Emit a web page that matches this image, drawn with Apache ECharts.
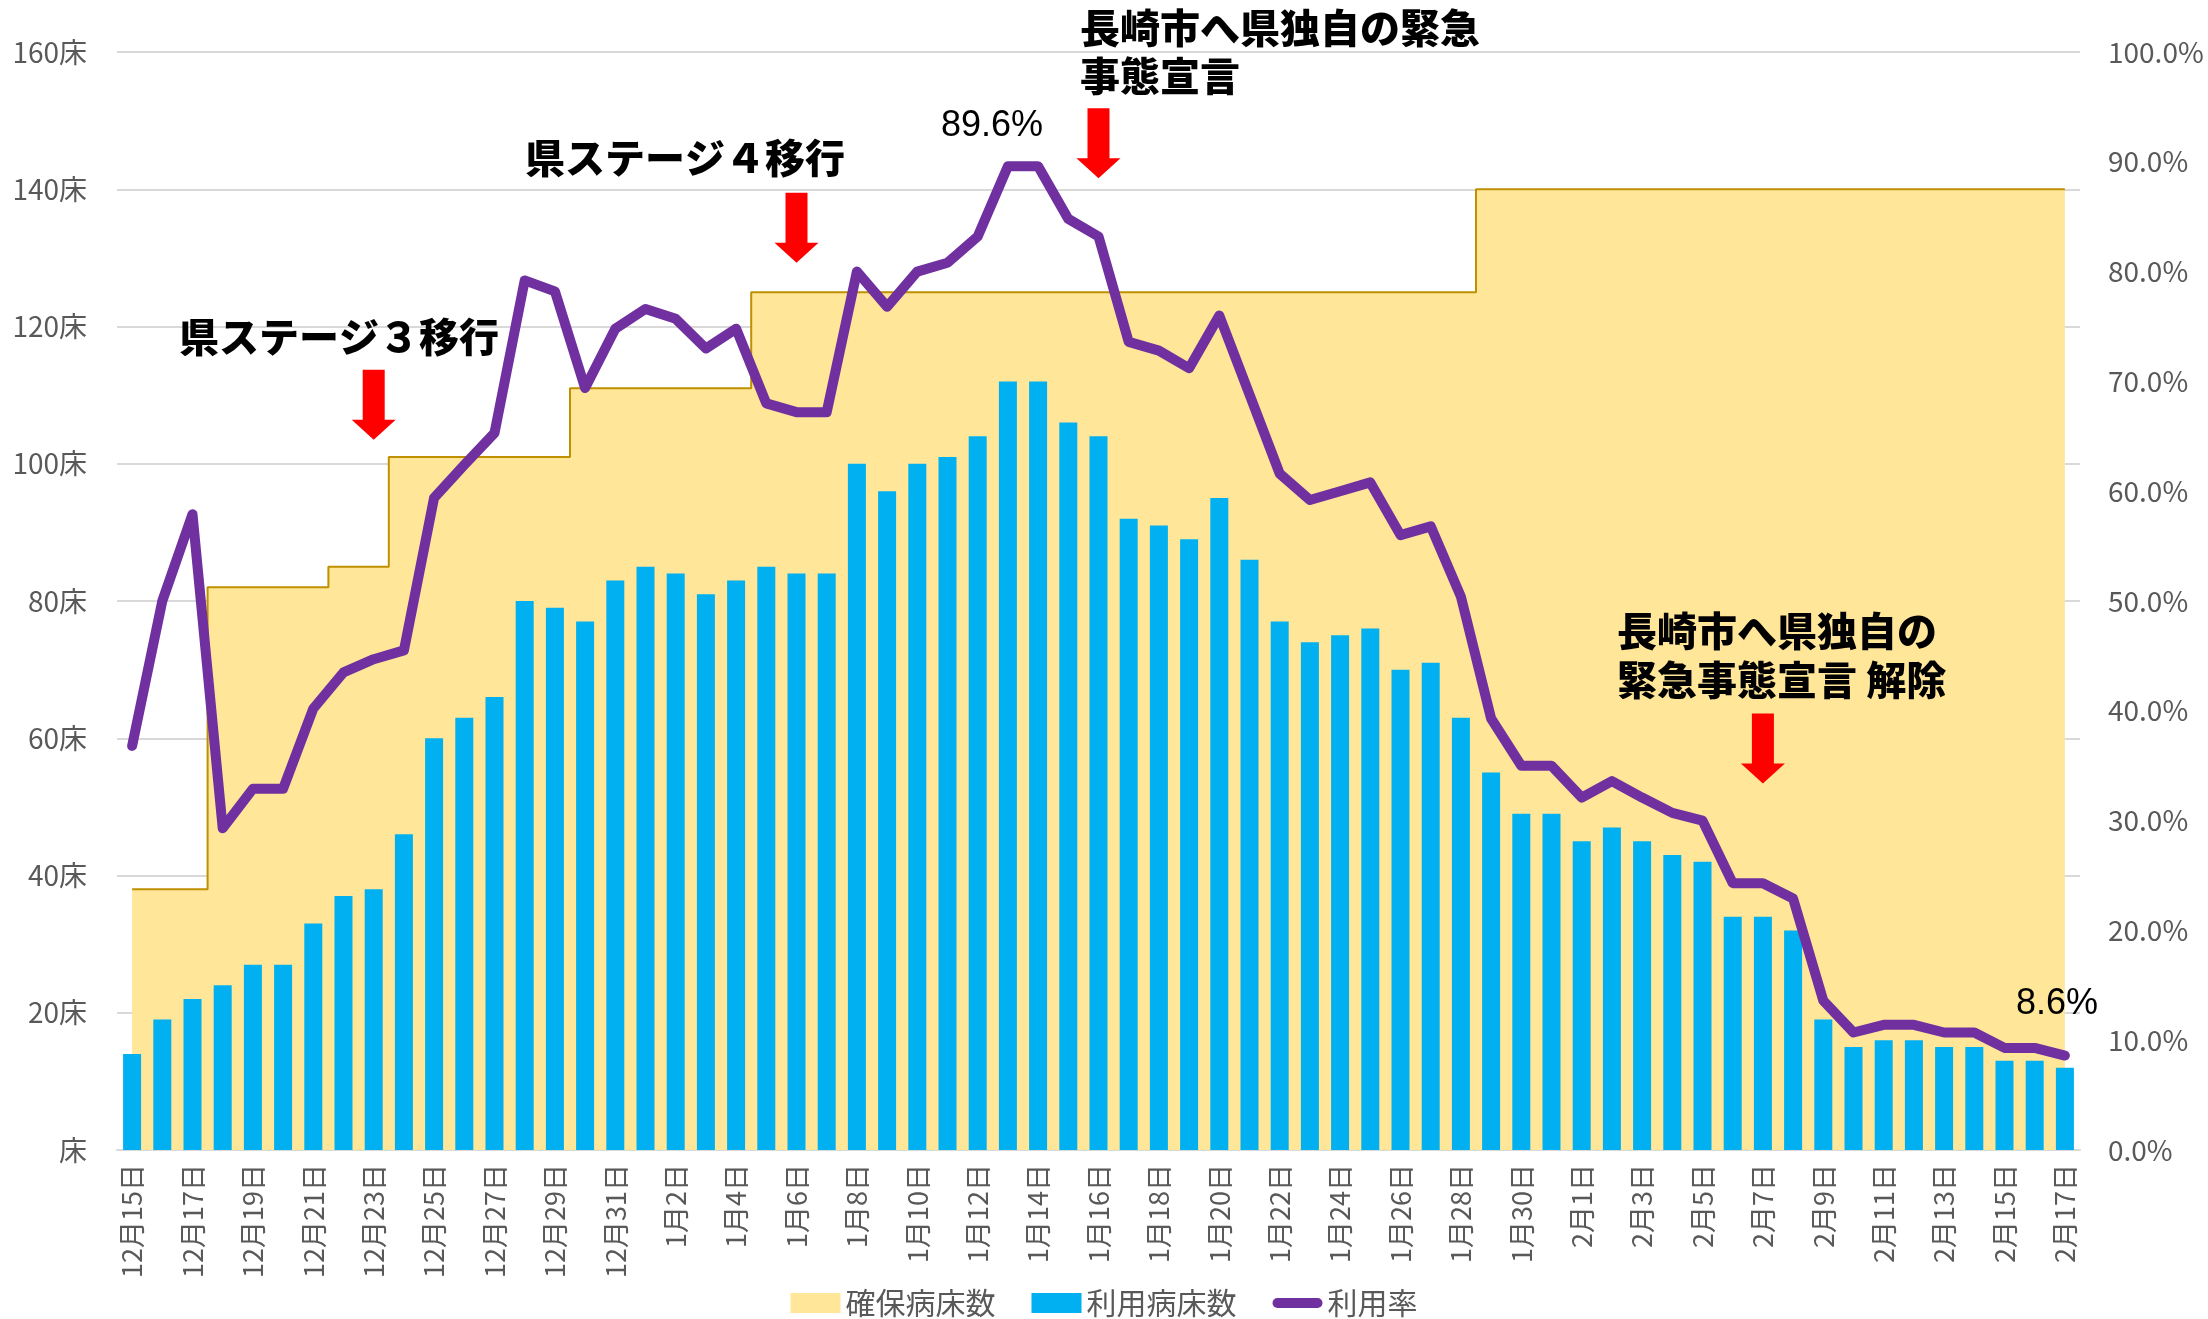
<!DOCTYPE html>
<html><head><meta charset="utf-8">
<script src="https://cdn.jsdelivr.net/npm/echarts@6/dist/echarts.min.js"></script>
<style>html,body{margin:0;padding:0;background:#fff}#main{width:2208px;height:1319px}</style>
</head><body><div id="main"></div>
<script>
const dates = ['12月15日','12月16日','12月17日','12月18日','12月19日','12月20日','12月21日','12月22日','12月23日','12月24日','12月25日','12月26日','12月27日','12月28日','12月29日','12月30日','12月31日',
'1月1日','1月2日','1月3日','1月4日','1月5日','1月6日','1月7日','1月8日','1月9日','1月10日','1月11日','1月12日','1月13日','1月14日','1月15日','1月16日','1月17日','1月18日','1月19日','1月20日','1月21日','1月22日','1月23日','1月24日','1月25日','1月26日','1月27日','1月28日','1月29日','1月30日','1月31日',
'2月1日','2月2日','2月3日','2月4日','2月5日','2月6日','2月7日','2月8日','2月9日','2月10日','2月11日','2月12日','2月13日','2月14日','2月15日','2月16日','2月17日'];
const securedBeds = [38,38,38,82,82,82,82,85,85,101,101,101,101,101,101,111,111,
111,111,111,111,125,125,125,125,125,125,125,125,125,125,125,125,125,125,125,125,125,125,125,125,125,125,125,125,140,140,140,
140,140,140,140,140,140,140,140,140,140,140,140,140,140,140,140,140];
const usedBeds = [14,19,22,24,27,27,33,37,38,46,60,63,66,80,79,77,83,
85,84,81,83,85,84,84,100,96,100,101,104,112,112,106,104,92,91,89,95,86,77,74,75,76,70,71,63,55,49,49,
45,47,45,43,42,34,34,32,19,15,16,16,15,15,13,13,12];
const usageRate = [36.8,50.0,57.9,29.3,32.9,32.9,40.2,43.5,44.7,45.5,59.4,62.4,65.3,79.2,78.2,69.4,74.8,
76.6,75.7,73.0,74.8,68.0,67.2,67.2,80.0,76.8,80.0,80.8,83.2,89.6,89.6,84.8,83.2,73.6,72.8,71.2,76.0,68.8,61.6,59.2,60.0,60.8,56.0,56.8,50.4,39.3,35.0,35.0,
32.1,33.6,32.1,30.7,30.0,24.3,24.3,22.9,13.6,10.7,11.4,11.4,10.7,10.7,9.3,9.3,8.6];
const leftTicks = [0,20,40,60,80,100,120,140,160];
const arrowPoints = [['12月23日',108.6],['1月6日',134.4],['1月16日',146.7],['2月7日',58.5]];

const CJK = "'Noto Sans CJK JP', 'Noto Sans', sans-serif";
const chart = echarts.init(document.getElementById('main'));
const arrowPath = 'path://M11,0 H33 V50 H44 L22,70 L0,50 H11 Z';
const boldFont = "900 40px " + CJK;
const numFont = "36px 'Liberation Sans Narrow', 'Liberation Sans', sans-serif";
function txt(x, y, text, font, align) {
  return {type: 'text', x: x, y: y, z: 100, zlevel: 1,
    style: {text: text, font: font, fill: '#000', align: align || 'left', verticalAlign: 'middle'}};
}
chart.setOption({
  animation: false,
  textStyle: {fontFamily: CJK},
  grid: {left: 117, right: 128, top: 52, bottom: 169},
  xAxis: {
    type: 'category', data: dates, boundaryGap: true,
    axisLine: {lineStyle: {color: '#D9D9D9', width: 2}},
    axisTick: {interval: 1, length: 8, lineStyle: {color: '#D9D9D9', width: 2}},
    axisLabel: {interval: 1, rotate: 90, fontSize: 27, color: '#595959', margin: 14}
  },
  yAxis: [{
    type: 'value', min: leftTicks[0], max: leftTicks[leftTicks.length-1], interval: 20,
    axisLabel: {formatter: v => (v === 0 ? '床' : v + '床'), fontSize: 28, color: '#595959', margin: 30},
    splitLine: {lineStyle: {color: '#D9D9D9', width: 2}},
    axisLine: {show: false}, axisTick: {show: false}
  }, {
    type: 'value', min: 0, max: 100, interval: 10, position: 'right',
    axisLabel: {formatter: v => v.toFixed(1) + '%', fontSize: 28, color: '#595959', margin: 28},
    splitLine: {show: false}, axisLine: {show: false}, axisTick: {show: false}
  }],
  legend: {
    top: 1283, left: 'center', itemWidth: 50, itemHeight: 20, itemGap: 36,
    textStyle: {fontSize: 30, color: '#595959'},
    data: [
      {name: '確保病床数', icon: 'rect', itemStyle: {color: '#FFE699', borderWidth: 0}},
      {name: '利用病床数', icon: 'rect'},
      {name: '利用率', icon: 'path://M6,0 H54 A6,6 0 0 1 54,12 H6 A6,6 0 0 1 6,0 Z', itemStyle: {color: '#7030A0'}}
    ]
  },
  series: [{
    name: '確保病床数', type: 'line', step: 'middle', data: securedBeds, yAxisIndex: 0,
    symbol: 'none', z: 1,
    itemStyle: {color: '#FFE699'},
    lineStyle: {color: '#BF9000', width: 2},
    areaStyle: {color: '#FFE699', opacity: 1}
  }, {
    name: '利用病床数', type: 'bar', data: usedBeds, yAxisIndex: 0, barWidth: 18, z: 2,
    itemStyle: {color: '#00B0F0'},
    markPoint: {
      symbol: arrowPath, symbolSize: [44, 70], itemStyle: {color: '#FF0000'},
      label: {show: false}, silent: true,
      data: arrowPoints.map(p => ({coord: p}))
    }
  }, {
    name: '利用率', type: 'line', data: usageRate, yAxisIndex: 1, symbol: 'none', z: 3,
    itemStyle: {color: '#7030A0'},
    lineStyle: {color: '#7030A0', width: 10, join: 'round', cap: 'round'}
  }],
  graphic: [
    txt(179, 337, '県ステージ３移行', boldFont),
    txt(525, 158, '県ステージ４移行', boldFont),
    txt(1080, 28, '長崎市へ県独自の緊急', boldFont),
    txt(1080, 76, '事態宣言', boldFont),
    txt(1617, 631, '長崎市へ県独自の', boldFont),
    txt(1617, 680, '緊急事態宣言 解除', boldFont),
    txt(992, 126, '89.6%', numFont, 'center'),
    txt(2057, 1004, '8.6%', numFont, 'center')
  ]
});
</script></body></html>
